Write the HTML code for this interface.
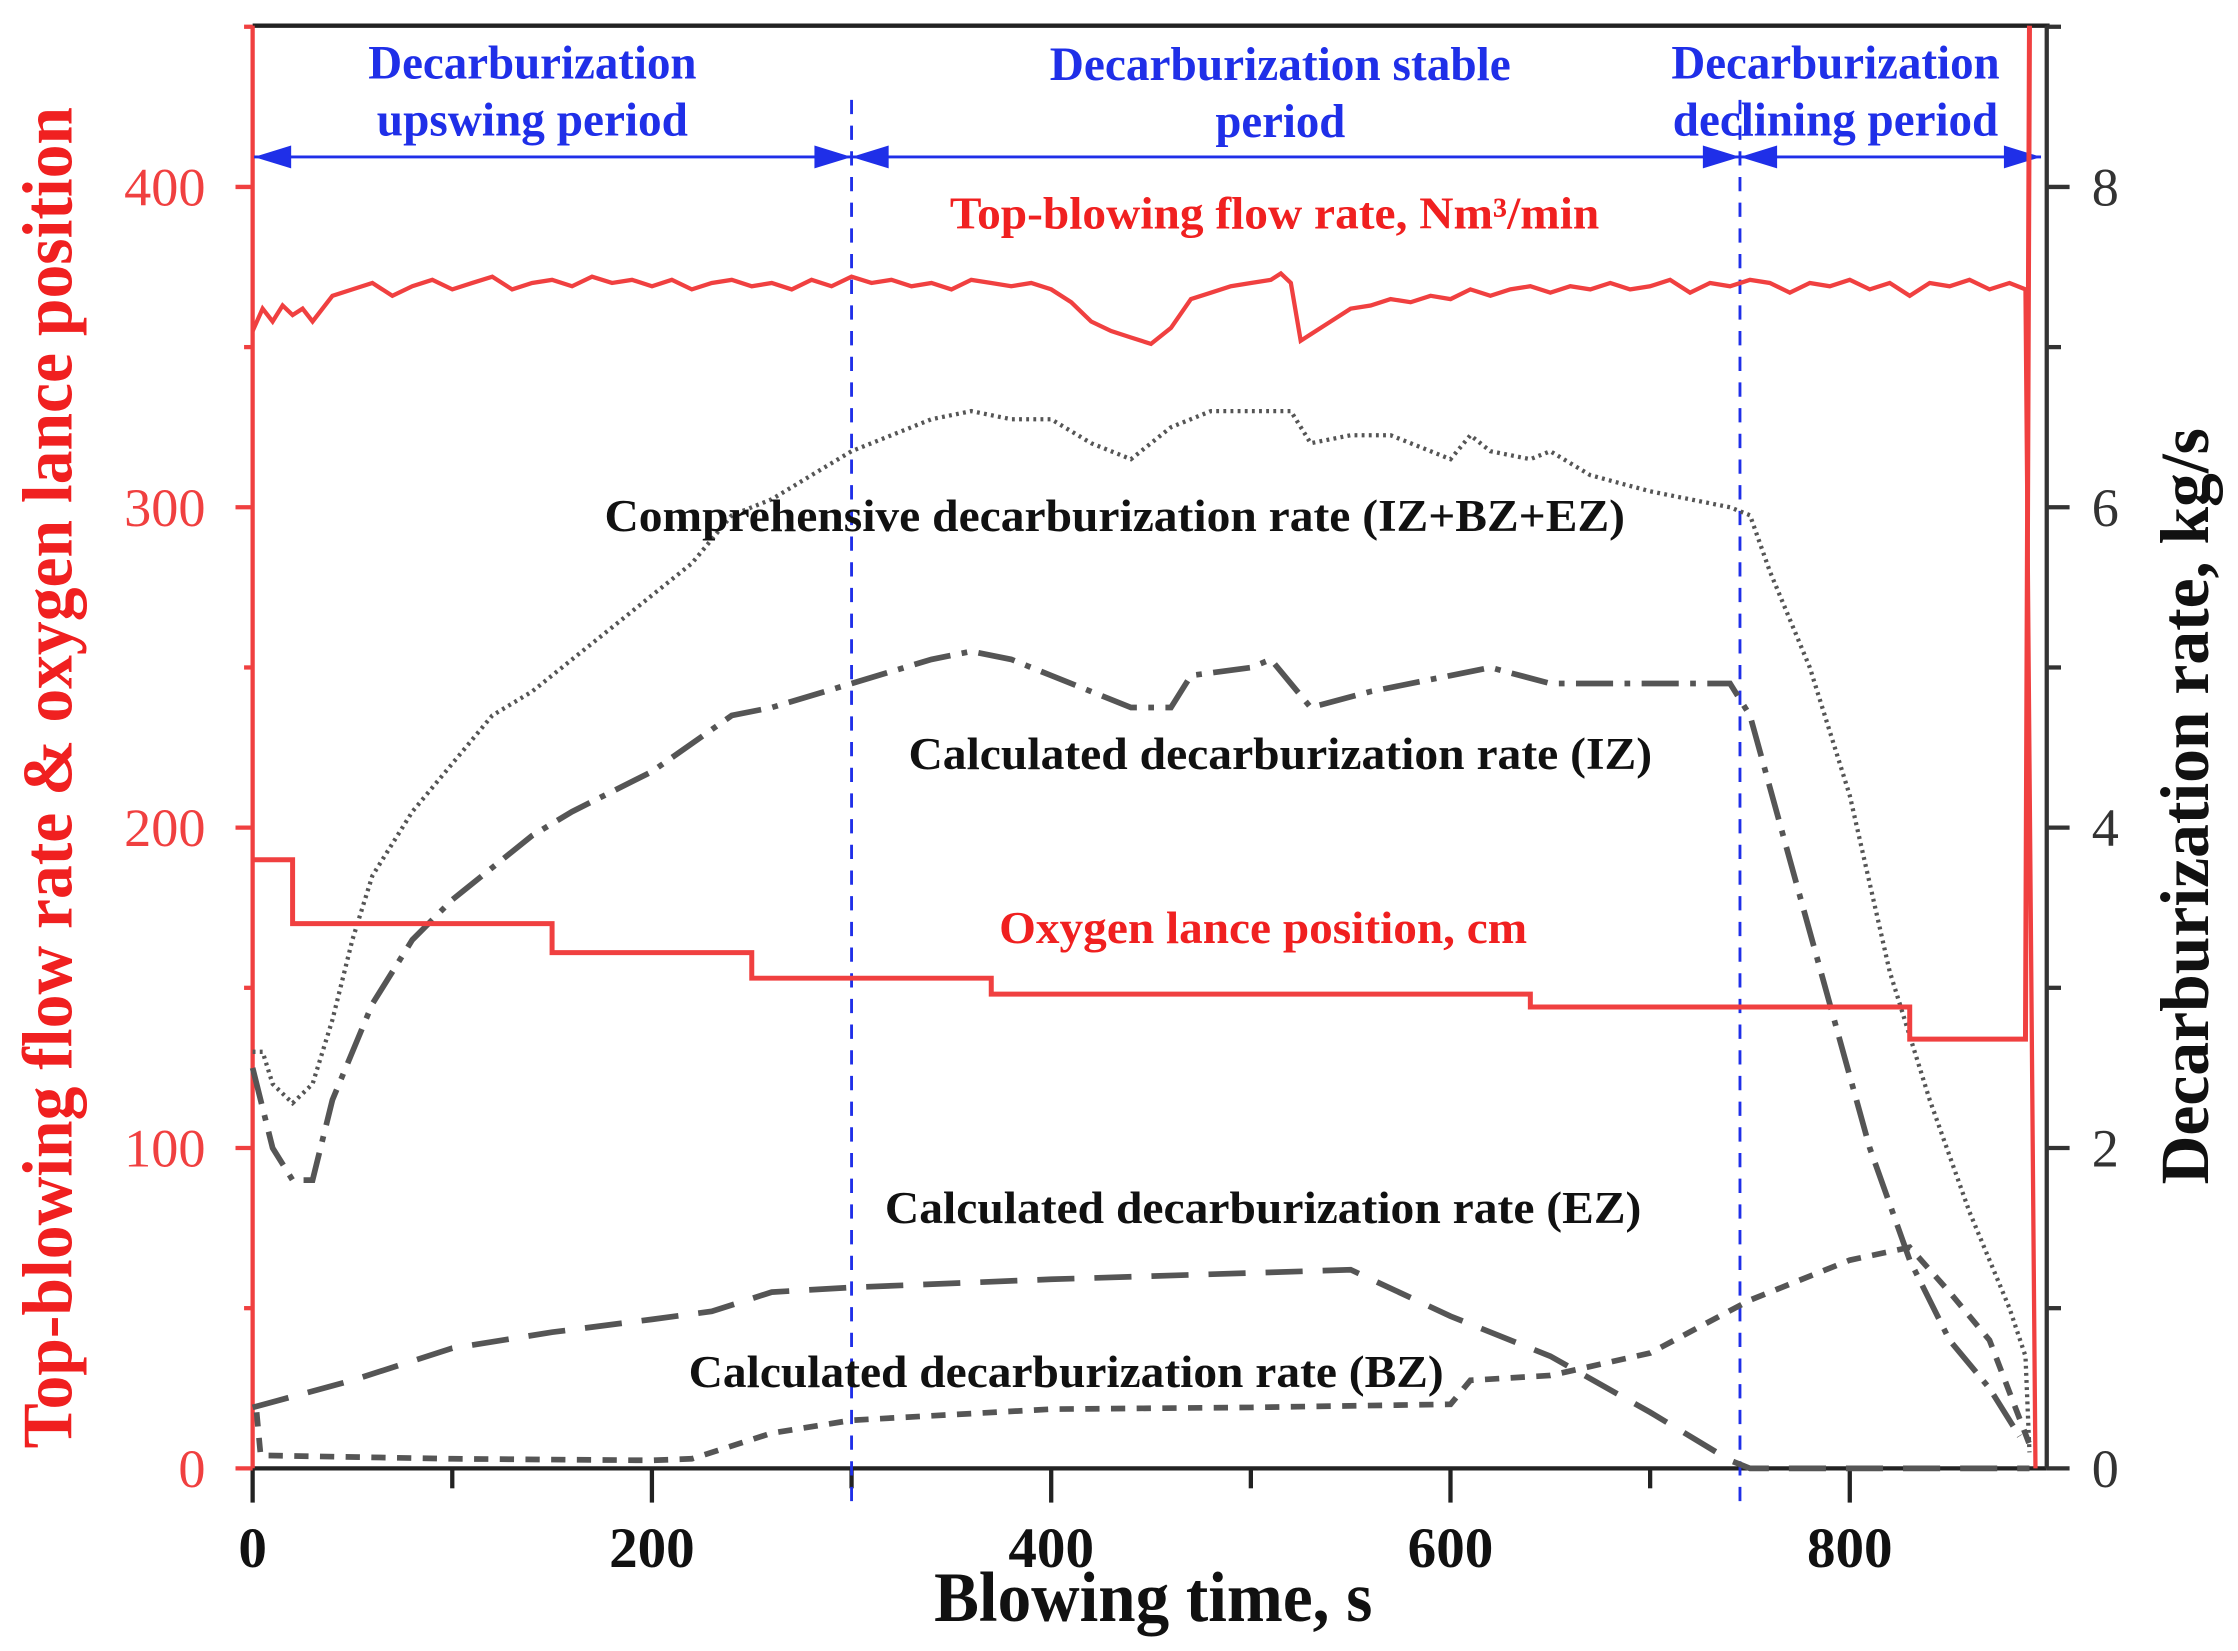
<!DOCTYPE html>
<html><head><meta charset="utf-8"><style>
html,body{margin:0;padding:0;background:#fff;}
svg{display:block;}
text{font-family:"Liberation Serif",serif;}
</style></head><body>
<svg id="chart" width="2238" height="1651" viewBox="0 0 1568 1157" preserveAspectRatio="none" xmlns="http://www.w3.org/2000/svg">
<g id="marks"></g>
<g id="ann"></g>
</svg>
<script>
// ---- data ----
const flowTime = [0,5,10,15,20,25,30,40,50,60,70,80,90,100,110,120,130,140,150,160,170,180,190,200,210,220,230,240,250,260,270,280,290,300,310,320,330,340,350,360,370,380,390,400,410,420,430,440,450,460,470,480,490,500,510,515,520,525,530,540,550,560,570,580,590,600,610,620,630,640,650,660,670,680,690,700,710,720,730,740,750,760,770,780,790,800,810,820,830,840,850,860,870,880,888,893];
const flowRate = [355,362,358,363,360,362,358,366,368,370,366,369,371,368,370,372,368,370,371,369,372,370,371,369,371,368,370,371,369,370,368,371,369,372,370,371,369,370,368,371,370,369,370,368,364,358,355,353,351,356,365,367,369,370,371,373,370,352,354,358,362,363,365,364,366,365,368,366,368,369,367,369,368,370,368,369,371,367,370,369,371,370,367,370,369,371,368,370,366,370,369,371,368,370,368,0];
const lanceTime = [0,20,20,150,150,250,250,370,370,640,640,830,830,888,890];
const lancePos = [190,190,170,170,161,161,153,153,148,148,144,144,134,134,460];
const rateTime = [0,5,10,20,30,40,50,60,80,100,120,140,160,180,200,220,240,260,280,300,320,340,360,380,400,420,440,460,480,500,520,530,550,570,600,610,620,640,650,670,700,740,750,760,780,800,820,840,860,880,888,890];
const rateTotal = [2.6,2.6,2.4,2.28,2.4,2.8,3.3,3.7,4.1,4.4,4.7,4.85,5.05,5.25,5.45,5.65,5.95,6.05,6.2,6.35,6.45,6.55,6.6,6.55,6.55,6.4,6.3,6.5,6.6,6.6,6.6,6.4,6.45,6.45,6.3,6.45,6.35,6.3,6.35,6.2,6.1,6.0,5.95,5.6,5.0,4.2,3.1,2.3,1.6,1.0,0.7,0.1];
const izTime = [0,10,20,30,40,60,80,100,140,160,200,240,260,300,340,360,380,400,440,460,470,500,510,530,560,600,620,650,700,740,750,770,790,810,830,850,870,885];
const izRate = [2.5,2.0,1.8,1.8,2.3,2.9,3.3,3.55,3.95,4.1,4.35,4.7,4.75,4.9,5.05,5.1,5.05,4.95,4.75,4.75,4.95,5.0,5.05,4.75,4.85,4.95,5.0,4.9,4.9,4.9,4.7,3.8,2.9,2.0,1.3,0.8,0.5,0.2];
const ezTime = [0,50,100,150,200,230,260,300,400,500,550,600,650,700,740,750,890];
const ezRate = [0.38,0.55,0.75,0.85,0.93,0.98,1.1,1.13,1.18,1.22,1.24,0.95,0.7,0.35,0.05,0,0];
const bzTime = [2,4,8,100,200,220,260,300,400,500,600,610,650,700,750,800,830,850,870,890];
const bzRate = [0.35,0.08,0.08,0.06,0.05,0.06,0.22,0.3,0.37,0.38,0.4,0.55,0.58,0.72,1.05,1.3,1.38,1.1,0.8,0.15];
const leftTicks = [0,100,200,300,400];
const rightTicks = [0,2,4,6,8];
const xTicks = [0,200,400,600,800];

// ---- scales (displayed coordinate space 1568x1157) ----
const X0=177, XPX=(1296-177)/800, Y0=1029, YPX=(1029-131)/400;
const sx = t => X0 + t*XPX;
const sy = v => Y0 - v*YPX;
const sr = v => Y0 - v*50*YPX;

const NS="http://www.w3.org/2000/svg";
const marks=document.getElementById('marks');
const ann=document.getElementById('ann');
function mk(tag,attrs,parent){const e=document.createElementNS(NS,tag);for(const k in attrs)e.setAttribute(k,attrs[k]);(parent||marks).appendChild(e);return e;}
function pts(ts,vs,f){return ts.map((t,i)=>sx(t).toFixed(1)+','+Math.max(18,f(vs[i])).toFixed(1)).join(' ');}

let e;
e=mk('line',{x1:177,y1:18,x2:1436,y2:18,stroke:'#222','stroke-width':3});


e=mk('line',{x1:177,y1:1029,x2:1434,y2:1029,stroke:'#222','stroke-width':3});


e=mk('line',{x1:1434,y1:18,x2:1434,y2:1029,stroke:'#333','stroke-width':3});


e=mk('line',{x1:177,y1:18,x2:177,y2:1029,stroke:'#f04040','stroke-width':3});



for(let t=0;t<=800;t+=100){
  e=mk('line',{x1:sx(t),y1:1029,x2:sx(t),y2:t%200===0?1053:1043,stroke:'#222','stroke-width':3});
  
  
}
xTicks.forEach(t=>{
  e=mk('text',{x:sx(t),y:1098,'text-anchor':'middle','font-size':40,'font-weight':'bold',fill:'#111'});
  e.textContent=t;
  
  
});
for(let v=0;v<=450;v+=50){
  e=mk('line',{x1:v%100===0?165:171,y1:sy(v),x2:177,y2:sy(v),stroke:'#f04040','stroke-width':3});
  
  
}
leftTicks.forEach(v=>{
  e=mk('text',{x:144,y:sy(v)+13,'text-anchor':'end','font-size':38,fill:'#f04040'});
  e.textContent=v;
  
  
});
for(let v=0;v<=9;v+=1){
  e=mk('line',{x1:1434,y1:sr(v),x2:v%2===0?1450:1444,y2:sr(v),stroke:'#333','stroke-width':3});
  
  
}
rightTicks.forEach(v=>{
  e=mk('text',{x:1475,y:sr(v)+13,'text-anchor':'middle','font-size':38,fill:'#333'});
  e.textContent=v;
  
  
});

[300,745].forEach(t=>{
  e=mk('line',{x1:sx(t),y1:70,x2:sx(t),y2:1052,stroke:'#1f2fe8','stroke-width':2,'stroke-dasharray':'10,8'});
  
  
});
function arrow(x1,x2){
  const y=110;
  let g=mk('g',{});
  
  
  mk('line',{x1:x1,y1:y,x2:x2,y2:y,stroke:'#1f2fe8','stroke-width':2},g);
  mk('polygon',{points:`${x1},${y} ${x1+26},${y-8} ${x1+26},${y+8}`,fill:'#1f2fe8'},g);
  mk('polygon',{points:`${x2},${y} ${x2-26},${y-8} ${x2-26},${y+8}`,fill:'#1f2fe8'},g);
}
arrow(178,sx(300));arrow(sx(300),sx(745));arrow(sx(745),1430);

e=mk('polyline',{points:pts(rateTime,rateTotal,sr),fill:'none',stroke:'#555','stroke-width':3,'stroke-dasharray':'2,3'});


e=mk('polyline',{points:pts(izTime,izRate,sr),fill:'none',stroke:'#555','stroke-width':4,'stroke-dasharray':'26,8,4,8'});


e=mk('polyline',{points:pts(ezTime,ezRate,sr),fill:'none',stroke:'#555','stroke-width':4,'stroke-dasharray':'26,14'});


e=mk('polyline',{points:pts(bzTime,bzRate,sr),fill:'none',stroke:'#555','stroke-width':4,'stroke-dasharray':'10,8'});


e=mk('polyline',{points:pts(flowTime,flowRate,sy),fill:'none',stroke:'#f04040','stroke-width':3});


e=mk('polyline',{points:pts(lanceTime,lancePos,sy),fill:'none',stroke:'#f04040','stroke-width':3.5});



function txt(s,x,y,size,fill,name,len,rot){
  const a={x:x,y:y,'text-anchor':'middle','font-size':size,'font-weight':'bold',fill:fill};
  if(len){a.textLength=len;a.lengthAdjust='spacingAndGlyphs';}
  if(rot)a.transform=`rotate(-90 ${x} ${y})`;
  const t=mk('text',a,ann);t.textContent=s;
  
  
}
txt('Decarburization',373,55,33,'#1f2fe8','period-label-upswing',230);
txt('upswing period',373,95,33,'#1f2fe8','period-label-upswing',218);
txt('Decarburization stable',897,56,33,'#1f2fe8','period-label-stable',323);
txt('period',897,96,33,'#1f2fe8','period-label-stable',91);
txt('Decarburization',1286,55,33,'#1f2fe8','period-label-declining',230);
txt('declining period',1286,95,33,'#1f2fe8','period-label-declining',228);
txt('Top-blowing flow rate, Nm³/min',893,160,32,'#f02020','flow-rate-label',455);
txt('Oxygen lance position, cm',885,661,32,'#f02020','lance-position-label',370);
txt('Comprehensive decarburization rate (IZ+BZ+EZ)',781,372,32,'#111','comprehensive-rate-label',715);
txt('Calculated decarburization rate (IZ)',897,539,32,'#111','iz-rate-label',521);
txt('Calculated decarburization rate (EZ)',885,857,32,'#111','ez-rate-label',530);
txt('Calculated decarburization rate (BZ)',747,972,32,'#111','bz-rate-label',529);
txt('Blowing time, s',808,1136,50,'#111','x-axis-title',307);
txt('Top-blowing flow rate & oxygen lance position',50,545,50,'#f02020','left-axis-title',940,true);
txt('Decarburization rate, kg/s',1547,565,48,'#111','right-axis-title',530,true);
</script>
</body></html>
